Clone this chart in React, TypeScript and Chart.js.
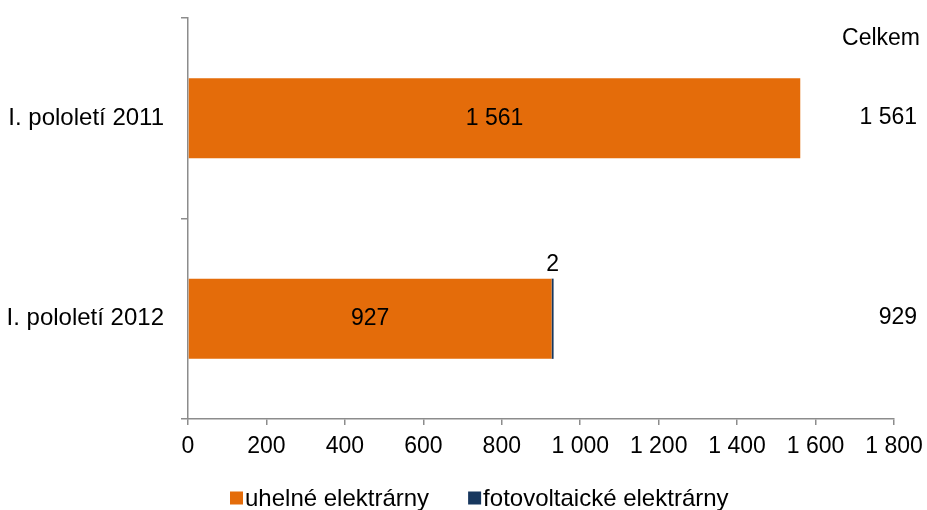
import React, { useEffect, useRef } from 'react';
import { Chart, registerables } from 'chart.js';

Chart.register(...registerables);

const categories = ['I. pololetí 2011', 'I. pololetí 2012'];
const seriesNames = ['uhelné elektrárny', 'fotovoltaické elektrárny'];
const coalValues = [1561, 927];
const solarValues = [0, 2];
const totals = [1561, 929];
const totalsHeader = 'Celkem';
const xTickValues = [0, 200, 400, 600, 800, 1000, 1200, 1400, 1600, 1800];
const seriesColors = ['#E46C0A', '#17375E'];

const FONT = '"Liberation Sans", Arial, sans-serif';
const FONT_SIZE = 23;
const LABEL_FONT_SIZE = 24;
const AXIS_COLOR = '#8C8C8C';

function fmt(v: number): string {
  return String(v).replace(/\B(?=(\d{3})+(?!\d))/g, ' ');
}

const labelsPlugin = {
  id: 'customLabels',
  afterDatasetsDraw(chart: any) {
    const ctx = chart.ctx;
    const area = chart.chartArea;
    const yScale = chart.scales.y;
    ctx.save();
    ctx.font = `${FONT_SIZE}px ${FONT}`;
    ctx.fillStyle = '#000';

    // labels inside orange bars
    const meta0 = chart.getDatasetMeta(0);
    meta0.data.forEach((bar: any, i: number) => {
      const v = coalValues[i];
      if (!v) return;
      ctx.textAlign = 'center';
      ctx.textBaseline = 'middle';
      ctx.fillText(fmt(v), (bar.x + bar.base) / 2, bar.y);
    });

    // labels above navy bars
    const meta1 = chart.getDatasetMeta(1);
    meta1.data.forEach((bar: any, i: number) => {
      const v = solarValues[i];
      if (!v) return;
      ctx.textAlign = 'center';
      ctx.textBaseline = 'bottom';
      ctx.fillText(fmt(v), (bar.x + bar.base) / 2, bar.y - bar.height / 2 - 2);
    });

    // totals column
    const rightX = area.right + 23;
    ctx.textAlign = 'right';
    ctx.textBaseline = 'middle';
    ctx.fillText(totalsHeader, rightX + 3, area.top + 21);
    totals.forEach((t, i) => {
      ctx.fillText(fmt(t), rightX, yScale.getPixelForValue(i) - 1);
    });

    // legend
    ctx.font = `${LABEL_FONT_SIZE}px ${FONT}`;
    const legendY = 498;
    let x = area.left + 42;
    const box = 13;
    seriesNames.forEach((name, i) => {
      ctx.fillStyle = seriesColors[i];
      ctx.fillRect(x, legendY - box / 2, box, box);
      x += box + 2;
      ctx.fillStyle = '#000';
      ctx.textAlign = 'left';
      ctx.textBaseline = 'middle';
      ctx.fillText(name, x, legendY + 1);
      x += ctx.measureText(name).width + 39;
    });
    ctx.restore();
  },
};

export default function App() {
  const canvasRef = useRef<HTMLCanvasElement | null>(null);

  useEffect(() => {
    if (!canvasRef.current) return;
    const chart = new Chart(canvasRef.current, {
      type: 'bar',
      data: {
        labels: categories,
        datasets: [
          {
            label: seriesNames[0],
            data: coalValues,
            backgroundColor: seriesColors[0],
            barPercentage: 0.8,
            categoryPercentage: 0.5,
          },
          {
            label: seriesNames[1],
            data: solarValues.map((v) => (v ? v : null)),
            backgroundColor: seriesColors[1],
            barPercentage: 0.8,
            categoryPercentage: 0.5,
            minBarLength: 2,
          },
        ],
      },
      options: {
        indexAxis: 'y',
        animation: false,
        responsive: true,
        maintainAspectRatio: false,
        layout: { padding: { left: 0, right: 33, top: 18, bottom: 51 } },
        plugins: {
          legend: { display: false },
          tooltip: { enabled: false },
        },
        scales: {
          x: {
            stacked: true,
            min: 0,
            max: 1800,
            afterBuildTicks: (scale: any) => {
              scale.ticks = xTickValues.map((v) => ({ value: v }));
            },
            afterFit: (scale: any) => {
              scale.height = 40;
              scale.paddingLeft = 0;
              scale.paddingRight = 0;
            },
            ticks: {
              autoSkip: false,
              maxRotation: 0,
              padding: 8,
              color: '#000',
              font: { family: FONT, size: FONT_SIZE },
              callback: (v: any) => fmt(Number(v)),
            },
            grid: {
              drawOnChartArea: false,
              drawTicks: true,
              tickLength: 6,
              color: AXIS_COLOR,
              lineWidth: 1.5,
            },
            border: { display: true, color: AXIS_COLOR, width: 1.5 },
          },
          y: {
            stacked: true,
            afterFit: (scale: any) => {
              scale.width = 188;
              scale.paddingTop = 0;
              scale.paddingBottom = 0;
            },
            ticks: {
              padding: 17,
              color: '#000',
              font: { family: FONT, size: LABEL_FONT_SIZE },
            },
            grid: {
              offset: true,
              drawOnChartArea: false,
              drawTicks: true,
              tickLength: 7,
              color: AXIS_COLOR,
              lineWidth: 1.5,
            },
            border: { display: true, color: AXIS_COLOR, width: 1.5 },
          },
        },
      },
      plugins: [labelsPlugin],
    } as any);
    return () => chart.destroy();
  }, []);

  return (
    <div style={{ position: 'fixed', left: 0, top: 0, width: 927, height: 510, background: '#fff' }}>
      <canvas ref={canvasRef} />
    </div>
  );
}
